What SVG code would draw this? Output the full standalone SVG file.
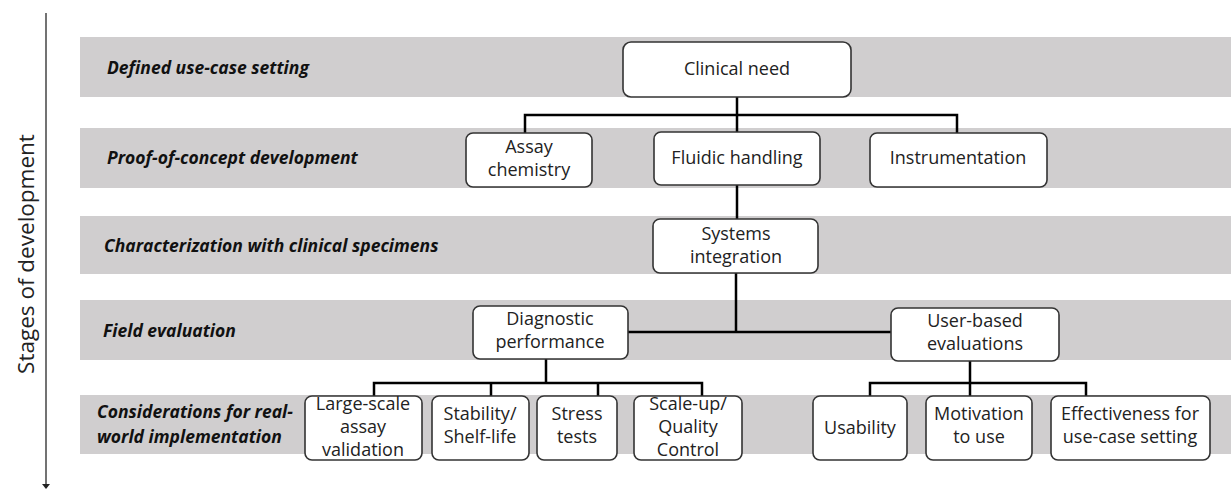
<svg xmlns="http://www.w3.org/2000/svg" width="1231" height="491" viewBox="0 0 1231 491">
<defs>
<style>
.band{fill:#d0cecf;}
.box{fill:#ffffff;stroke:#333333;stroke-width:1.6;}
.lbl{font-family:"Open Sans","Liberation Sans",sans-serif;font-size:17.5px;font-weight:bold;font-style:italic;fill:#111111;}
.t{font-family:"Open Sans","Liberation Sans",sans-serif;font-size:18px;fill:#222222;text-anchor:middle;}
.axis{font-family:"Open Sans","Liberation Sans",sans-serif;font-size:22.5px;fill:#222222;text-anchor:middle;}
.conn{fill:none;stroke:#000000;stroke-width:2.5;}
</style>
</defs>
<rect width="1231" height="491" fill="#ffffff"/>
<g id="bands">
<rect class="band" x="80" y="37" width="1151" height="60"/>
<rect class="band" x="80" y="128" width="1151" height="60"/>
<rect class="band" x="80" y="216" width="1151" height="58"/>
<rect class="band" x="80" y="300" width="1151" height="60"/>
<rect class="band" x="80" y="395" width="1151" height="59"/>
</g>
<g id="axis">
<line x1="46" y1="13" x2="46" y2="484" stroke="#444444" stroke-width="1.5"/>
<path d="M42,484 L50,484 L46,489 Z" fill="#222222"/>
<text class="axis" transform="translate(34,254) rotate(-90)">Stages of development</text>
</g>
<g id="stage-labels">
<text class="lbl" x="107" y="74">Defined use-case setting</text>
<text class="lbl" x="107" y="164">Proof-of-concept development</text>
<text class="lbl" x="104" y="252">Characterization with clinical specimens</text>
<text class="lbl" x="103" y="337">Field evaluation</text>
<text class="lbl" x="97" y="418">Considerations for real-</text>
<text class="lbl" x="97" y="443">world implementation</text>
</g>
<g id="connectors">
<path class="conn" d="M737,97 V133 M525,133 V115 H957 V133"/>
<path class="conn" d="M737,185 V219"/>
<path class="conn" d="M736,273 V332 M627,332 H891"/>
<path class="conn" d="M546,359 V383 M374,396 V383 H702 V396 M491,383 V396 M598,383 V396"/>
<path class="conn" d="M970,361 V396 M870,396 V383 H1086 V396"/>
</g>
<g id="clinical-need">
<rect class="box" x="623" y="42" width="228" height="55" rx="8"/>
<text class="t" x="737" y="75">Clinical need</text>
</g>
<g id="assay-chemistry">
<rect class="box" x="466" y="133" width="126" height="54" rx="7"/>
<text class="t" x="529" y="153">Assay</text>
<text class="t" x="529" y="176">chemistry</text>
</g>
<g id="fluidic-handling">
<rect class="box" x="654" y="132" width="166" height="53" rx="7"/>
<text class="t" x="737" y="164">Fluidic handling</text>
</g>
<g id="instrumentation">
<rect class="box" x="870" y="133" width="177" height="54" rx="7"/>
<text class="t" x="958" y="164">Instrumentation</text>
</g>
<g id="systems-integration">
<rect class="box" x="653" y="219" width="165" height="54" rx="7"/>
<text class="t" x="736" y="240">Systems</text>
<text class="t" x="736" y="263">integration</text>
</g>
<g id="diagnostic-performance">
<rect class="box" x="473" y="306" width="155" height="53" rx="7"/>
<text class="t" x="550" y="325">Diagnostic</text>
<text class="t" x="550" y="348">performance</text>
</g>
<g id="user-based-evaluations">
<rect class="box" x="891" y="308" width="168" height="53" rx="7"/>
<text class="t" x="975" y="327">User-based</text>
<text class="t" x="975" y="350">evaluations</text>
</g>
<g id="large-scale">
<rect class="box" x="305" y="396" width="117" height="64" rx="7"/>
<text class="t" x="363" y="410">Large-scale</text>
<text class="t" x="363" y="433">assay</text>
<text class="t" x="363" y="456">validation</text>
</g>
<g id="stability">
<rect class="box" x="432" y="396" width="97" height="64" rx="7"/>
<text class="t" x="480" y="420">Stability/</text>
<text class="t" x="480" y="443">Shelf-life</text>
</g>
<g id="stress-tests">
<rect class="box" x="537" y="396" width="80" height="64" rx="7"/>
<text class="t" x="577" y="420">Stress</text>
<text class="t" x="577" y="443">tests</text>
</g>
<g id="scale-up">
<rect class="box" x="634" y="396" width="108" height="64" rx="7"/>
<text class="t" x="688" y="410">Scale-up/</text>
<text class="t" x="688" y="433">Quality</text>
<text class="t" x="688" y="456">Control</text>
</g>
<g id="usability">
<rect class="box" x="813" y="396" width="94" height="64" rx="7"/>
<text class="t" x="860" y="434">Usability</text>
</g>
<g id="motivation">
<rect class="box" x="926" y="396" width="106" height="64" rx="7"/>
<text class="t" x="979" y="420">Motivation</text>
<text class="t" x="979" y="443">to use</text>
</g>
<g id="effectiveness">
<rect class="box" x="1051" y="396" width="159" height="64" rx="7"/>
<text class="t" x="1130" y="420">Effectiveness for</text>
<text class="t" x="1130" y="443">use-case setting</text>
</g>
</svg>
